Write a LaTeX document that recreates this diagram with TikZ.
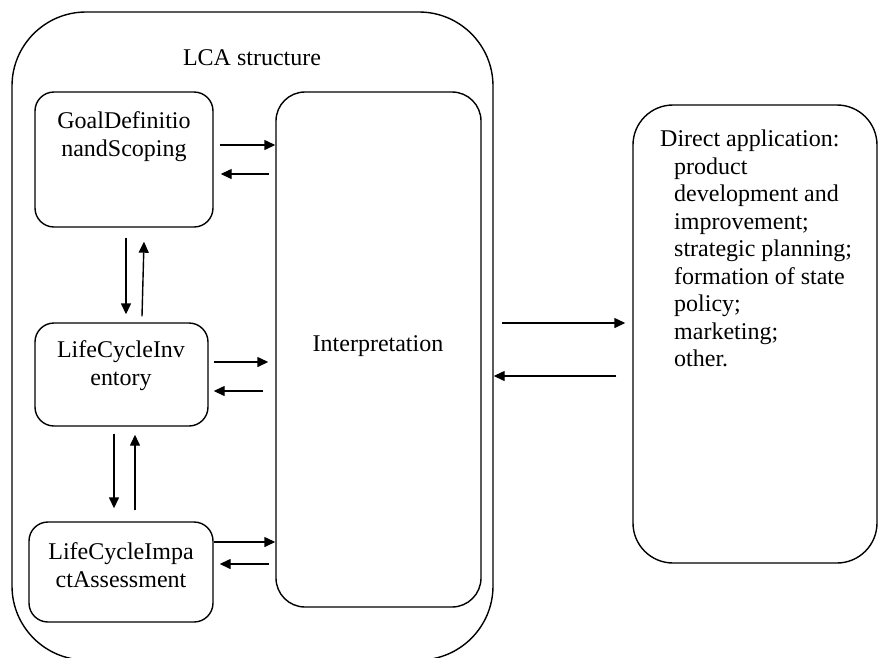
\documentclass[tikz,border=0pt]{standalone}
\usepackage{fontspec}
\setmainfont{Liberation Serif}
\usetikzlibrary{arrows.meta,calc}
\begin{document}
\begin{tikzpicture}[x=1pt,y=-1pt,
  box/.style={draw,line width=1.4pt,inner sep=0pt,rectangle},
  lbl/.style={font=\fontsize{24}{28}\selectfont,inner sep=0pt},
  arr/.style={line width=1.4pt,-{Triangle[length=11pt,width=10pt]}}]
\useasboundingbox (0,0) rectangle (879,657);
\clip (0,0) rectangle (879,657);
\fill[white] (0,0) rectangle (879,657);
% boxes
\node[box,rounded corners=74pt,minimum width=481pt,minimum height=648pt] (outer) at (252.5,336) {};
\node[box,rounded corners=19pt,minimum width=178pt,minimum height=135pt] (goal) at (124,159.5) {};
\node[box,rounded corners=19pt,minimum width=173pt,minimum height=103pt] (inv) at (121.5,374.5) {};
\node[box,rounded corners=19pt,minimum width=184pt,minimum height=100pt] (imp) at (121,572) {};
\node[box,rounded corners=29pt,minimum width=205pt,minimum height=515pt] (interp) at (378.5,349.5) {};
\node[box,rounded corners=40pt,minimum width=244pt,minimum height=458pt] (direct) at (755,334) {};
% texts
\node[lbl,anchor=base] (ttl) at (252,65) {LCA structure};
\node[lbl,align=center] (tgoal) at (124,137) {GoalDefinitio\\nandScoping};
\node[lbl,align=center] (tinv) at (121,366) {LifeCycleInv\\entory};
\node[lbl,align=center] (timp) at (121,565) {LifeCycleImpa\\ctAssessment};
\node[lbl,anchor=base] (tint) at (378,351) {Interpretation};
\node[lbl,align=left,anchor=north west,font=\fontsize{24}{27.5}\selectfont] (tdir) at (660,130)
 {Direct application:\\ \hspace*{14pt}product\\ \hspace*{14pt}development and\\ \hspace*{14pt}improvement;\\ \hspace*{14pt}strategic planning;\\ \hspace*{14pt}formation of state\\ \hspace*{14pt}policy;\\ \hspace*{14pt}marketing;\\ \hspace*{14pt}other.};
% arrows
\draw[arr] ($(goal.east|-0,145)+(6,0)$) -- (interp.west|-0,145);
\draw[arr] ($(interp.west|-0,174)+(-6,0)$) -- ($(goal.east|-0,174)+(7,0)$);
\draw[arr] ($(goal.south)+(2,10)$) -- ($(inv.north)+(4.5,-8)$);
\draw[arr] ($(inv.north)+(20.5,-6)$) -- ($(goal.south)+(20,14)$);
\draw[arr] ($(inv.east|-0,362)+(5,0)$) -- ($(interp.west|-0,362)+(-7,0)$);
\draw[arr] ($(interp.west|-0,391)+(-12,0)$) -- ($(inv.east|-0,391)+(5,0)$);
\draw[arr] ($(inv.south)+(-7.5,7)$) -- ($(imp.north)+(-7,-13)$);
\draw[arr] ($(imp.north)+(14,-11)$) -- ($(inv.south)+(13.5,8)$);
\draw[arr] (imp.east|-0,542) -- (interp.west|-0,542);
\draw[arr] ($(interp.west|-0,564)+(-6,0)$) -- ($(imp.east|-0,564)+(6,0)$);
\draw[arr] ($(outer.east|-0,323)+(8,0)$) -- ($(direct.west|-0,323)+(-7,0)$);
\draw[arr] ($(direct.west|-0,376)+(-16,0)$) -- (outer.east|-0,376);
\end{tikzpicture}
\end{document}
